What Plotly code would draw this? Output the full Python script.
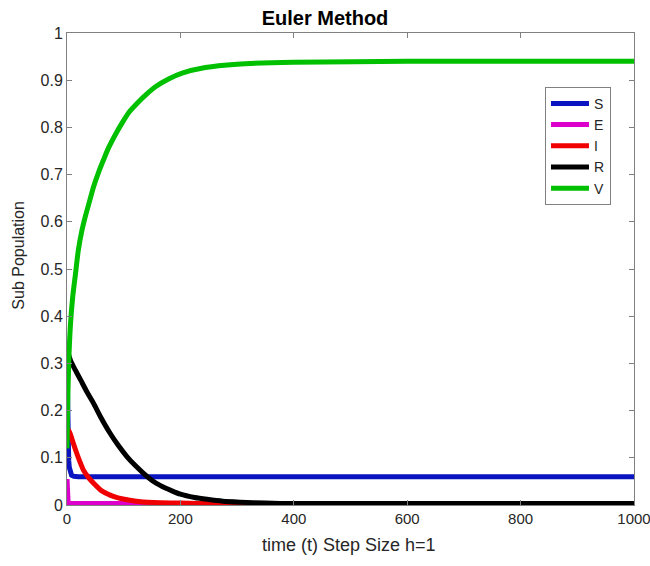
import plotly.graph_objects as go

# values (line centres)
t_s = [0, 1, 2, 3, 4, 6, 8, 12, 20, 1000]
s_vals = [0.30, 0.17, 0.12, 0.095, 0.08, 0.068, 0.063, 0.061, 0.06, 0.06]

t_e = [0, 1, 2, 4, 1000]
e_vals = [0.055, 0.012, 0.004, 0.003, 0.003]

t_i = [0, 3, 6, 10, 15, 22, 29, 38, 47, 60, 76, 90, 106, 130, 165, 200, 260, 350, 1000]
i_vals = [0.16, 0.158, 0.15, 0.135, 0.117, 0.094, 0.074, 0.058, 0.046, 0.031, 0.021,
          0.015, 0.011, 0.007, 0.005, 0.004, 0.003, 0.003, 0.003]

t_r = [0, 6, 15, 24, 35, 47, 60, 76, 90, 106, 120, 135, 150, 165, 185, 200, 225, 247,
       275, 306, 350, 400, 500, 1000]
r_vals = [0.33, 0.307, 0.285, 0.265, 0.24, 0.215, 0.185, 0.152, 0.127, 0.102, 0.084,
          0.067, 0.052, 0.041, 0.03, 0.023, 0.016, 0.012, 0.008, 0.006, 0.004, 0.003,
          0.003, 0.003]

t_v = [0, 1, 3, 6, 10, 15, 20, 26, 32, 38, 47, 56, 65, 73, 85, 97, 110, 126, 140, 156,
       180, 203, 244, 300, 400, 600, 1000]
v_vals = [0.12, 0.2, 0.3, 0.38, 0.44, 0.49, 0.54, 0.58, 0.61, 0.636, 0.675, 0.706, 0.733,
          0.756, 0.784, 0.809, 0.833, 0.854, 0.87, 0.886, 0.903, 0.915, 0.927, 0.934,
          0.938, 0.94, 0.94]

series = [
    ("S", t_s, s_vals, "#0a14c0", "linear"),
    ("E", t_e, e_vals, "#dd00cc", "linear"),
    ("I", t_i, i_vals, "#f00000", "spline"),
    ("R", t_r, r_vals, "#000000", "spline"),
    ("V", t_v, v_vals, "#00c000", "spline"),
]

FONT = "Liberation Sans, Arial, sans-serif"
TXT = "#262626"
AX = "#808080"

fig = go.Figure()
for name, t, y, col, shape in series:
    fig.add_trace(go.Scatter(x=t, y=y, name=name, mode="lines",
                             line=dict(color=col, width=5, shape=shape, smoothing=0.6)))

fig.update_layout(
    width=650, height=566, autosize=False,
    margin=dict(l=67, r=16, t=33, b=61, autoexpand=False),
    plot_bgcolor="white", paper_bgcolor="white",
    font=dict(family=FONT, size=16, color=TXT),
    title=dict(text="<b>Euler Method</b>", x=0.5, xanchor="center",
               y=0.968, yanchor="middle", font=dict(size=20, color="black")),
    legend=dict(x=0.843, y=0.886, xanchor="left", yanchor="top",
                bordercolor=AX, borderwidth=1, bgcolor="white",
                font=dict(size=14, color=TXT), itemwidth=38),
)
fig.update_xaxes(range=[0, 1000], tick0=0, dtick=200, showgrid=False, zeroline=False,
                 showline=True, linecolor=AX, linewidth=1, mirror="ticks",
                 ticks="inside", ticklen=5, tickcolor=AX, automargin=False,
                 tickfont=dict(size=15), ticklabeloverflow="allow")
fig.update_yaxes(range=[0, 1], tick0=0, dtick=0.1, showgrid=False, zeroline=False,
                 showline=True, linecolor=AX, linewidth=1, mirror="ticks",
                 ticks="inside", ticklen=5, tickcolor=AX, automargin=False,
                 ticklabeloverflow="allow")

# axis titles placed as in the reference
fig.add_annotation(text="time (t) Step Size h=1", xref="paper", yref="paper",
                   x=0.498, y=-0.085, xanchor="center", yanchor="middle",
                   showarrow=False, font=dict(size=18, color=TXT))
fig.add_annotation(text="Sub Population", xref="paper", yref="paper",
                   x=-0.085, y=0.53, xanchor="center", yanchor="middle",
                   textangle=-90, showarrow=False, font=dict(size=16, color=TXT))

# drop the default 8px page margin so the 650x566 figure fills the window exactly
fig.write_html("out.html", config={"displayModeBar": False},
               post_script="document.body.style.margin='0';")
